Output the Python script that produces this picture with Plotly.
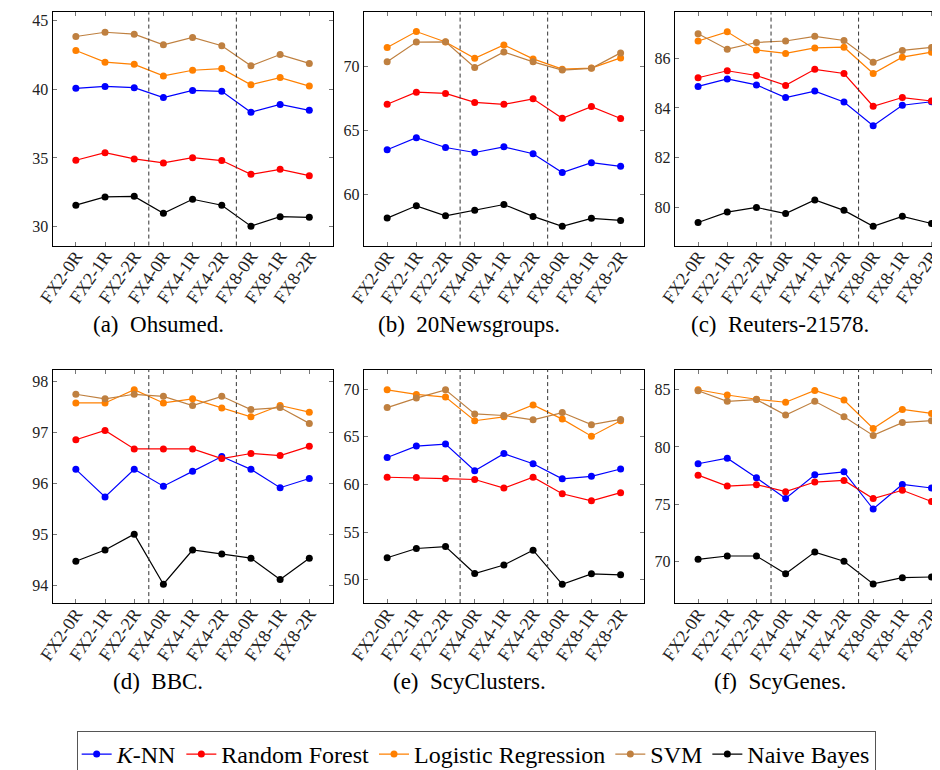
import plotly.graph_objects as go

categories = ["FX2-0R", "FX2-1R", "FX2-2R", "FX4-0R", "FX4-1R", "FX4-2R", "FX8-0R", "FX8-1R", "FX8-2R"]
methods = ["<i>K</i>-NN", "Random Forest", "Logistic Regression", "SVM", "Naive Bayes"]

# (a) Ohsumed
ohsumed_knn = [40.05, 40.19, 40.10, 39.38, 39.90, 39.83, 38.31, 38.88, 38.45]
ohsumed_rf = [34.83, 35.38, 34.93, 34.64, 35.02, 34.81, 33.81, 34.17, 33.71]
ohsumed_lr = [42.79, 41.95, 41.79, 40.95, 41.36, 41.48, 40.31, 40.83, 40.21]
ohsumed_svm = [43.81, 44.12, 43.98, 43.21, 43.74, 43.14, 41.69, 42.50, 41.86]
ohsumed_nb = [31.57, 32.17, 32.21, 30.98, 32.00, 31.57, 30.05, 30.74, 30.69]

# (b) 20Newsgroups
news_knn = [63.48, 64.43, 63.66, 63.27, 63.71, 63.17, 61.70, 62.47, 62.19]
news_rf = [67.04, 67.99, 67.89, 67.19, 67.04, 67.47, 65.95, 66.86, 65.93]
news_lr = [71.49, 72.73, 71.91, 70.64, 71.68, 70.59, 69.79, 69.87, 70.67]
news_svm = [70.36, 71.91, 71.93, 69.92, 71.13, 70.36, 69.72, 69.85, 71.06]
news_nb = [58.14, 59.10, 58.32, 58.76, 59.20, 58.27, 57.50, 58.12, 57.96]

# (c) Reuters-21578
reuters_knn = [84.87, 85.17, 84.93, 84.42, 84.68, 84.24, 83.28, 84.11, 84.25]
reuters_rf = [85.22, 85.50, 85.31, 84.91, 85.56, 85.39, 84.07, 84.42, 84.28]
reuters_lr = [86.70, 87.07, 86.34, 86.20, 86.42, 86.45, 85.39, 86.05, 86.25]
reuters_svm = [86.99, 86.37, 86.64, 86.70, 86.89, 86.72, 85.84, 86.32, 86.44]
reuters_nb = [79.38, 79.80, 79.99, 79.74, 80.29, 79.87, 79.23, 79.63, 79.34]

# (d) BBC
bbc_knn = [96.27, 95.73, 96.27, 95.94, 96.23, 96.52, 96.27, 95.91, 96.09]
bbc_rf = [96.85, 97.03, 96.67, 96.67, 96.67, 96.48, 96.58, 96.54, 96.72]
bbc_lr = [97.57, 97.57, 97.83, 97.57, 97.65, 97.47, 97.30, 97.52, 97.39]
bbc_svm = [97.74, 97.65, 97.74, 97.70, 97.52, 97.70, 97.44, 97.48, 97.17]
bbc_nb = [94.47, 94.69, 95.00, 94.02, 94.69, 94.61, 94.53, 94.11, 94.53]

# (e) ScyClusters
clusters_knn = [62.83, 64.03, 64.24, 61.45, 63.24, 62.17, 60.59, 60.86, 61.62]
clusters_rf = [60.76, 60.72, 60.62, 60.52, 59.62, 60.76, 59.03, 58.28, 59.14]
clusters_lr = [69.93, 69.45, 69.17, 66.69, 67.10, 68.34, 66.86, 65.07, 66.69]
clusters_svm = [68.07, 69.07, 69.93, 67.41, 67.24, 66.79, 67.55, 66.28, 66.83]
clusters_nb = [52.31, 53.28, 53.48, 50.66, 51.55, 53.10, 49.52, 50.62, 50.52]

# (f) ScyGenes
genes_knn = [78.53, 79.02, 77.30, 75.49, 77.56, 77.82, 74.57, 76.72, 76.41]
genes_rf = [77.53, 76.58, 76.70, 76.09, 76.93, 77.07, 75.49, 76.21, 75.23]
genes_lr = [85.00, 84.54, 84.17, 83.91, 84.94, 84.11, 81.61, 83.28, 82.93]
genes_svm = [84.91, 83.99, 84.14, 82.79, 83.99, 82.64, 81.01, 82.13, 82.30]
genes_nb = [70.17, 70.46, 70.46, 68.91, 70.80, 70.00, 68.02, 68.56, 68.62]

captions = ["(a)\u2002Ohsumed.", "(b)\u200220Newsgroups.", "(c)\u2002Reuters-21578.",
            "(d)\u2002BBC.", "(e)\u2002ScyClusters.", "(f)\u2002ScyGenes."]
separators = [2.5, 5.5]

panel_series = [
    [ohsumed_knn, ohsumed_rf, ohsumed_lr, ohsumed_svm, ohsumed_nb],
    [news_knn, news_rf, news_lr, news_svm, news_nb],
    [reuters_knn, reuters_rf, reuters_lr, reuters_svm, reuters_nb],
    [bbc_knn, bbc_rf, bbc_lr, bbc_svm, bbc_nb],
    [clusters_knn, clusters_rf, clusters_lr, clusters_svm, clusters_nb],
    [genes_knn, genes_rf, genes_lr, genes_svm, genes_nb],
]

# ---- styling / layout (not data) ----
W, H = 940, 770
colors = ["#0000ff", "#ff0000", "#ff8000", "#bf8040", "#000000"]
col_px = [(29, 314), (345.7, 630.7), (662, 947)]
row_px = [(3.3, 240), (366, 602.7)]
yranges = [[28.64, 45.57], [55.99, 74.24], [78.45, 87.86],
           [93.65, 98.22], [47.55, 72.04], [66.34, 86.75]]
ydticks = [5, 5, 2, 1, 5, 5]
SERIF = "Liberation Serif"

fig = go.Figure()
fig.update_layout(width=W, height=H, autosize=False, margin=dict(l=0, r=0, t=0, b=0),
                  paper_bgcolor="white", plot_bgcolor="white", showlegend=True,
                  font=dict(family=SERIF, color="black"))

for p in range(6):
    r, c = divmod(p, 3)
    x0, x1 = col_px[c]
    y0, y1 = row_px[r]
    px_per_idx = (x1 - x0) / 9.6
    cut = x1 > W
    dom_x1 = min(x1, W)
    xmax = -0.8 + (dom_x1 - x0) / px_per_idx
    xa = "xaxis" if p == 0 else f"xaxis{p+1}"
    ya = "yaxis" if p == 0 else f"yaxis{p+1}"
    xr = "x" if p == 0 else f"x{p+1}"
    yr = "y" if p == 0 else f"y{p+1}"
    fig.update_layout({
        xa: dict(domain=[x0 / W, dom_x1 / W], anchor=yr, type="category",
                 range=[-0.8, xmax], showline=True, linecolor="black", linewidth=1,
                 mirror="ticks", ticks="inside", ticklen=4, tickcolor="#777",
                 tickangle=-55, showgrid=False, zeroline=False, ticklabelstandoff=-8,
                 tickfont=dict(family=SERIF, size=18, color="#222")),
        ya: dict(domain=[1 - y1 / H, 1 - y0 / H], anchor=xr, range=yranges[p],
                 dtick=ydticks[p], tick0=0, showline=True, linecolor="black", linewidth=1,
                 mirror=(False if cut else "ticks"), ticks="inside", ticklen=4,
                 tickcolor="#777", showgrid=False, zeroline=False,
                 tickfont=dict(family=SERIF, size=16, color="#222")),
    })
    for k in range(5):
        fig.add_trace(go.Scatter(x=categories, y=panel_series[p][k], mode="lines+markers",
                                 name=methods[k], legendgroup=methods[k], showlegend=(p == 0),
                                 line=dict(color=colors[k], width=1.2),
                                 marker=dict(color=colors[k], size=7),
                                 xaxis=xr, yaxis=yr))
    for s in separators:
        fig.add_shape(type="line", xref=xr, yref=f"{yr} domain", x0=s, x1=s, y0=0, y1=1,
                      line=dict(color="#333", width=1, dash="4px,3px"))
    cx = (x0 + x1) / 2 - 35
    cy = 320 if r == 0 else 682
    fig.add_annotation(text=captions[p], x=cx / W, y=1 - cy / H, xref="paper", yref="paper",
                       showarrow=False, xanchor="center", yanchor="middle",
                       font=dict(family=SERIF, size=23, color="black"))

fig.update_layout(legend=dict(orientation="h", x=460 / W, xanchor="center", y=1 - 732.7 / H,
                              yanchor="top", bordercolor="#555", borderwidth=1, bgcolor="white",
                              font=dict(family=SERIF, size=24, color="black"),
                              itemwidth=30, tracegroupgap=0))
fig.write_html("out.html")
